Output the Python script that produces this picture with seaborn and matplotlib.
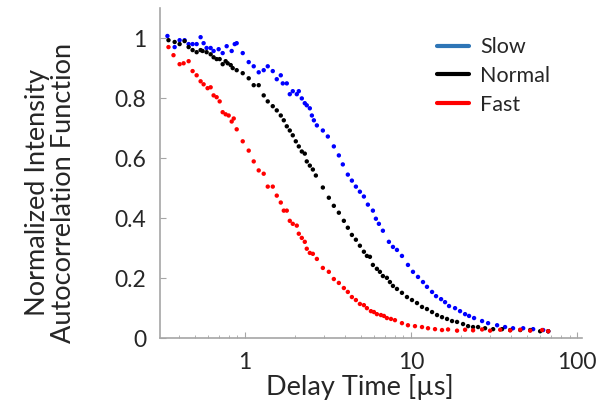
import matplotlib
matplotlib.use('Agg')
import matplotlib.pyplot as plt
from matplotlib.lines import Line2D
import matplotlib.ticker as mticker
import pandas as pd
import seaborn as sns

# Delay time [us] and normalized autocorrelation
slow_t = [0.343, 0.379, 0.406, 0.435, 0.460, 0.486, 0.514, 0.543, 0.566, 0.590,
          0.624, 0.650, 0.697, 0.737, 0.779, 0.835, 0.871, 0.895, 0.973, 1.057,
          1.133, 1.214, 1.301, 1.376, 1.475, 1.559, 1.648, 1.694, 1.791, 1.867,
          1.946, 2.057, 2.115, 2.205, 2.298, 2.362, 2.464, 2.535, 2.606, 2.717,
          2.951, 3.162, 3.436, 3.683, 3.891, 4.171, 4.412, 4.664, 4.929, 5.210,
          5.506, 5.902, 6.152, 6.413, 6.778, 7.366, 7.792, 8.236, 8.826, 9.59,
          10.28, 11.02, 11.81, 12.48, 13.39, 14.15, 15.17, 16.03, 16.94, 18.41,
          19.73, 21.15, 22.35, 23.96, 26.77, 29.09, 32.96, 36.8, 41.1, 47.3,
          54.3, 62.4, 66.9]
slow_g = [1.007, 0.970, 0.993, 0.993, 0.980, 0.980, 0.980, 1.003, 0.983, 0.967,
          0.967, 0.957, 0.963, 0.950, 0.973, 0.957, 0.980, 0.983, 0.950, 0.920,
          0.906, 0.886, 0.893, 0.906, 0.890, 0.863, 0.876, 0.849, 0.849, 0.813,
          0.823, 0.813, 0.823, 0.799, 0.783, 0.776, 0.766, 0.742, 0.726, 0.709,
          0.692, 0.672, 0.639, 0.609, 0.579, 0.545, 0.525, 0.505, 0.488, 0.472,
          0.445, 0.425, 0.398, 0.381, 0.358, 0.321, 0.304, 0.294, 0.274, 0.244,
          0.221, 0.204, 0.187, 0.171, 0.154, 0.140, 0.130, 0.120, 0.107, 0.100,
          0.090, 0.080, 0.074, 0.067, 0.057, 0.050, 0.043, 0.037, 0.033, 0.033,
          0.030, 0.027, 0.023]

normal_t = [0.348, 0.379, 0.406, 0.435, 0.460, 0.486, 0.514, 0.543, 0.558, 0.590,
            0.624, 0.650, 0.678, 0.707, 0.737, 0.768, 0.790, 0.824, 0.847, 0.895,
            0.973, 1.057, 1.133, 1.214, 1.301, 1.376, 1.475, 1.559, 1.648, 1.718,
            1.791, 1.867, 1.946, 2.029, 2.115, 2.205, 2.298, 2.362, 2.464, 2.570,
            2.679, 2.951, 3.206, 3.436, 3.683, 3.948, 4.171, 4.412, 4.664, 4.929,
            5.210, 5.433, 5.665, 5.902, 6.237, 6.504, 6.778, 7.164, 7.470, 7.792,
            8.236, 8.826, 9.46, 10.14, 10.87, 11.65, 12.48, 13.39, 14.35, 15.37,
            16.48, 17.66, 18.93, 20.57, 22.05, 23.63, 25.33, 27.9, 31.2, 35.3,
            39.5, 45.4, 52.1, 59.8, 66.9]
normal_g = [0.993, 0.987, 0.980, 0.990, 0.970, 0.960, 0.953, 0.960, 0.957, 0.953,
            0.946, 0.936, 0.930, 0.930, 0.913, 0.923, 0.916, 0.910, 0.900, 0.893,
            0.883, 0.866, 0.843, 0.843, 0.809, 0.789, 0.773, 0.759, 0.742, 0.726,
            0.706, 0.692, 0.676, 0.656, 0.639, 0.622, 0.615, 0.589, 0.575, 0.562,
            0.542, 0.502, 0.468, 0.441, 0.418, 0.391, 0.368, 0.344, 0.328, 0.308,
            0.288, 0.274, 0.271, 0.244, 0.231, 0.221, 0.207, 0.201, 0.187, 0.174,
            0.164, 0.151, 0.137, 0.127, 0.117, 0.104, 0.097, 0.087, 0.077, 0.070,
            0.064, 0.057, 0.054, 0.047, 0.040, 0.037, 0.037, 0.033, 0.030, 0.030,
            0.027, 0.027, 0.027, 0.023, 0.023]

fast_t = [0.348, 0.373, 0.406, 0.429, 0.460, 0.486, 0.514, 0.543, 0.566, 0.598,
          0.624, 0.650, 0.678, 0.707, 0.737, 0.768, 0.801, 0.835, 0.859, 0.895,
          0.973, 1.057, 1.133, 1.214, 1.301, 1.376, 1.475, 1.559, 1.648, 1.718,
          1.791, 1.867, 1.946, 2.057, 2.115, 2.205, 2.298, 2.362, 2.464, 2.570,
          2.717, 2.951, 3.206, 3.436, 3.683, 3.948, 4.171, 4.412, 4.664, 4.929,
          5.210, 5.433, 5.742, 5.985, 6.237, 6.596, 6.875, 7.164, 7.578, 8.010,
          8.826, 9.59, 10.57, 11.65, 12.66, 13.95, 15.37, 16.71, 18.93, 21.15,
          23.63, 26.77, 29.9, 34.4, 39.5, 45.4, 52.1, 61.5, 66.9]
fast_g = [0.970, 0.943, 0.913, 0.916, 0.923, 0.890, 0.876, 0.856, 0.846, 0.833,
          0.836, 0.809, 0.803, 0.789, 0.753, 0.746, 0.742, 0.722, 0.732, 0.696,
          0.656, 0.625, 0.589, 0.559, 0.548, 0.505, 0.505, 0.475, 0.452, 0.425,
          0.425, 0.391, 0.381, 0.375, 0.348, 0.334, 0.321, 0.298, 0.284, 0.281,
          0.264, 0.234, 0.221, 0.197, 0.184, 0.167, 0.154, 0.137, 0.127, 0.114,
          0.110, 0.100, 0.090, 0.087, 0.080, 0.077, 0.074, 0.067, 0.064, 0.060,
          0.050, 0.043, 0.040, 0.037, 0.033, 0.030, 0.027, 0.029, 0.025, 0.028,
          0.026, 0.029, 0.025, 0.028, 0.026, 0.028, 0.025, 0.027, 0.023]

series_names = ['Slow', 'Normal', 'Fast']
marker_colors = ['#0000FF', '#000000', '#FF0000']
legend_colors = ['#2E75B6', '#000000', '#FF0000']
y_ticks = [0, 0.2, 0.4, 0.6, 0.8, 1]
y_tick_labels = ['0', '0.2', '0.4', '0.6', '0.8', '1']
x_ticks = [1, 10, 100]
x_tick_labels = ['1', '10', '100']

frames = []
for name, t, g in [('Slow', slow_t, slow_g), ('Normal', normal_t, normal_g),
                   ('Fast', fast_t, fast_g)]:
    frames.append(pd.DataFrame({'delay': t, 'g2': g, 'speed': name}))
df = pd.concat(frames, ignore_index=True)

sns.set_style('white')
plt.rcParams['font.family'] = ['Lato', 'DejaVu Sans']

fig = plt.figure(figsize=(6.02, 4.04), dpi=100)
ax = fig.add_axes([0.266, 0.163, 0.701, 0.817])

sns.scatterplot(data=df, x='delay', y='g2', hue='speed', hue_order=series_names,
                palette=dict(zip(series_names, marker_colors)), s=10,
                linewidth=0, legend=False, ax=ax)

ax.set_xscale('log')
ax.set_xlim(0.31, 107)
ax.set_ylim(0, 1.1)
ax.set_xticks(x_ticks)
ax.set_xticklabels(x_tick_labels)
ax.xaxis.set_minor_locator(mticker.LogLocator(base=10, subs=range(2, 10)))
ax.xaxis.set_minor_formatter(mticker.NullFormatter())
ax.set_yticks(y_ticks)
ax.set_yticklabels(y_tick_labels)

for side in ['top', 'right']:
    ax.spines[side].set_visible(False)
for side in ['left', 'bottom']:
    ax.spines[side].set_color('#A6A6A6')
    ax.spines[side].set_linewidth(1.2)

ax.tick_params(axis='both', which='major', direction='in', length=4,
               color='#A6A6A6', labelsize=16.5, pad=10)
ax.tick_params(axis='x', which='minor', direction='in', length=2.5,
               color='#A6A6A6', bottom=True)
ax.tick_params(axis='x', which='major', bottom=True)
ax.tick_params(axis='y', which='major', left=True)

ax.set_xlabel('Delay Time [µs]', fontsize=19.5)
ax.set_ylabel('Normalized Intensity\nAutocorrelation Function', fontsize=19.5,
              linespacing=1.05)
ax.xaxis.set_label_coords(0.474, -0.11)
ax.yaxis.set_label_coords(-0.2, 0.44)

handles = [Line2D([0], [0], color=c, lw=3) for c in legend_colors]
ax.legend(handles, series_names, loc='upper left', bbox_to_anchor=(0.61, 0.97),
          frameon=False, fontsize=15.5, handlelength=1.5, handletextpad=0.5,
          labelspacing=0.4)

fig.savefig('out.png', dpi=100)
plt.close(fig)
